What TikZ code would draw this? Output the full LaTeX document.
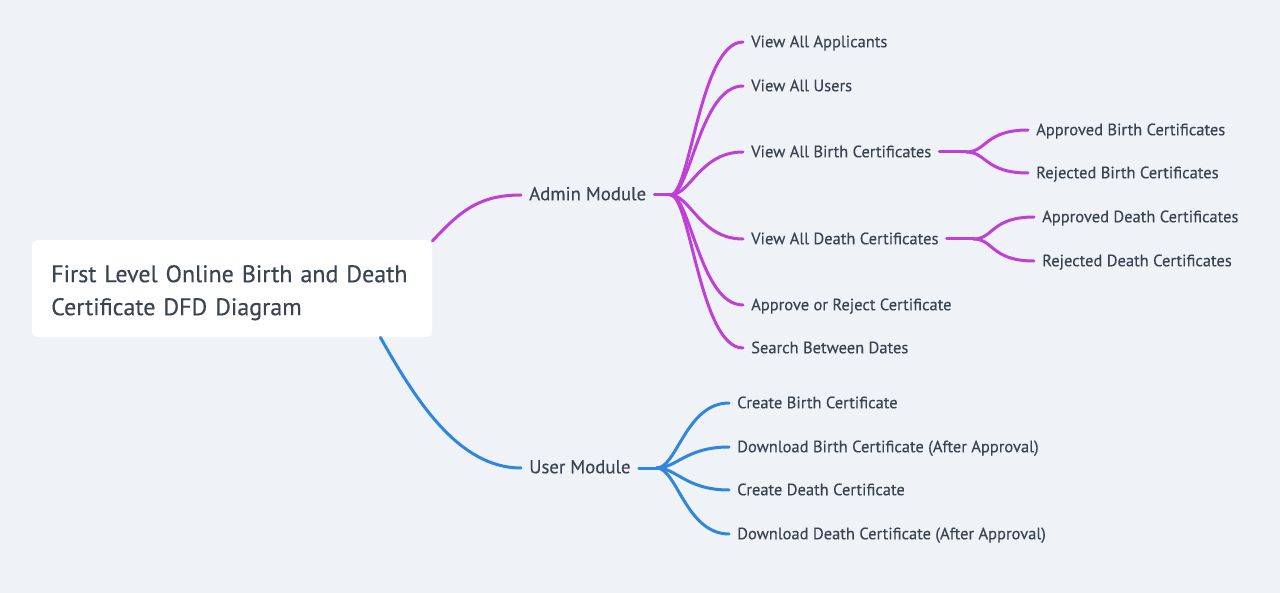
\documentclass[tikz,border=0pt]{standalone}
\usepackage{fontspec}
\setmainfont{PT Sans}[FakeBold=0.35]
\definecolor{bgfill}{RGB}{239, 243, 247}
\definecolor{admincol}{RGB}{192, 64, 214}
\definecolor{usercol}{RGB}{47, 134, 219}
\definecolor{textcol}{RGB}{58, 68, 82}
\usetikzlibrary{calc}
\tikzset{
    leaf/.style={anchor=west, inner xsep=8pt, inner ysep=0pt, text=textcol,
        text height=1.05em, text depth=0pt,
        font=\fontsize{16.5}{18}\selectfont},
    branch/.style={leaf, font=\fontsize{18.8}{21}\selectfont},
    rootbox/.style={anchor=north west, fill=white, rounded corners=5pt,
        text width=362pt, inner xsep=19pt, inner ysep=0pt, align=left,
        text height=42pt, text depth=55pt,
        text=textcol, font=\fontsize{24}{33}\selectfont},
    adminline/.style={draw=admincol, line width=3pt, line cap=round},
    userline/.style={draw=usercol, line width=3pt, line cap=round},
    twig/.style={to path={.. controls ($(\tikztostart)+(20,0)$) and
        ($(\tikztotarget)+(-43,0)$) .. (\tikztotarget)}},
}

\begin{document}
\begin{tikzpicture}[x=1pt, y=-1pt]
    \fill[bgfill] (0, 0) rectangle (1280, 593);
    \useasboundingbox (0, 0) rectangle (1280, 593);

    \node[rootbox] (root) at (32, 240)
        {First Level Online Birth and Death\\Certificate DFD Diagram};

    \node[branch] (admin) at (521, 195) {Admin Module};
    \node[branch] (user) at (521, 468) {User Module};

    % admin side
    \node[leaf] (applicants) at (743, 42) {View All Applicants};
    \node[leaf] (users) at (743, 86) {View All Users};
    \node[leaf] (birthall) at (743, 152) {View All Birth Certificates};
    \node[leaf] (deathall) at (743, 239) {View All Death Certificates};
    \node[leaf] (approve) at (743, 305) {Approve or Reject Certificate};
    \node[leaf] (search) at (743, 348) {Search Between Dates};

    \node[leaf] (birthok) at (1028, 130) {Approved Birth Certificates};
    \node[leaf] (birthno) at (1028, 173) {Rejected Birth Certificates};
    \node[leaf] (deathok) at (1034, 217) {Approved Death Certificates};
    \node[leaf] (deathno) at (1034, 261) {Rejected Death Certificates};

    % user side
    \node[leaf] (ucreateb) at (729, 403) {Create Birth Certificate};
    \node[leaf] (udownb) at (729, 447) {Download Birth Certificate (After Approval)};
    \node[leaf] (ucreated) at (729, 490) {Create Death Certificate};
    \node[leaf] (udownd) at (729, 534) {Download Death Certificate (After Approval)};

    \coordinate (adminj) at ($(admin.east)+(16, 0)$);
    \coordinate (userj) at ($(user.east)+(18, 0)$);
    \coordinate (birthj) at ($(birthall.east)+(27, 0)$);
    \coordinate (deathj) at ($(deathall.east)+(27, 0)$);

    \draw[adminline] ($(root.north east)+(0, 1)$) .. controls +(28, -30) and
        +(-42, 0) .. (admin.west);
    \draw[userline] ($(root.south east)+(-52, 0)$) .. controls +(36, 64) and
        +(-62, 0) .. (user.west);

    \draw[adminline] (admin.east) -- (adminj);
    \draw[adminline] (adminj) to[twig] (applicants.west);
    \draw[adminline] (adminj) to[twig] (users.west);
    \draw[adminline] (adminj) to[twig] (birthall.west);
    \draw[adminline] (adminj) to[twig] (deathall.west);
    \draw[adminline] (adminj) to[twig] (approve.west);
    \draw[adminline] (adminj) to[twig] (search.west);

    \draw[adminline] (birthall.east) -- (birthj);
    \draw[adminline] (birthj) to[twig] (birthok.west);
    \draw[adminline] (birthj) to[twig] (birthno.west);
    \draw[adminline] (deathall.east) -- (deathj);
    \draw[adminline] (deathj) to[twig] (deathok.west);
    \draw[adminline] (deathj) to[twig] (deathno.west);

    \draw[userline] (user.east) -- (userj);
    \draw[userline] (userj) to[twig] (ucreateb.west);
    \draw[userline] (userj) to[twig] (udownb.west);
    \draw[userline] (userj) to[twig] (ucreated.west);
    \draw[userline] (userj) to[twig] (udownd.west);
\end{tikzpicture}
\end{document}
